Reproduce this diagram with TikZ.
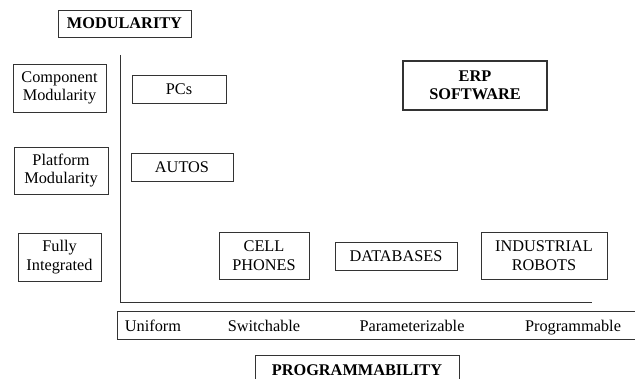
\documentclass[tikz,border=0pt]{standalone}
\usepackage{fontspec}
\setmainfont{Liberation Serif}
\begin{document}
\begin{tikzpicture}[x=1pt,y=-1pt,
  font=\fontsize{16.3}{18.5}\selectfont,
  line/.style={draw=black!80, line width=0.9pt},
  box/.style={line, inner sep=0pt, align=center},
  bold/.style={font=\fontsize{16.3}{18.5}\selectfont\bfseries},
  lbl/.style={inner sep=0pt, anchor=base}]
\useasboundingbox (0,0) rectangle (635,379);
% title
\node[box, bold, minimum width=133, minimum height=27] (mod) at (124.5,23.5) {MODULARITY};
% row labels
\node[box, minimum width=93, minimum height=48] (comp) at (59.5,88) {Component\\Modularity};
\node[box, minimum width=94, minimum height=47] (plat) at (61,170.5) {Platform\\Modularity};
\node[box, minimum width=83, minimum height=48] (full) at (59.5,257) {Fully\\Integrated};
% items
\node[box, minimum width=94, minimum height=28] (pcs) at (179,89) {PCs};
\node[box, minimum width=102, minimum height=28] (autos) at (182,167) {AUTOS};
\node[box, bold, line width=1.7pt, minimum width=144, minimum height=49] (erp) at (475,85.5) {ERP\\SOFTWARE};
\node[box, minimum width=90, minimum height=47] (cell) at (264,255.5) {CELL\\PHONES};
\node[box, minimum width=122, minimum height=28] (db) at (396,256) {DATABASES};
\node[box, minimum width=126, minimum height=47] (rob) at (544,255.5) {INDUSTRIAL\\ROBOTS};
% axes
\coordinate (ytop) at (120,55);
\coordinate (o) at (120,302);
\coordinate (xend) at (592,302);
\draw[line] (ytop) -- (o) -- (xend);
% scale box
\coordinate (s1) at (640,311);
\coordinate (s2) at (117,311);
\coordinate (s3) at (117,339);
\coordinate (s4) at (640,339);
\draw[line] (s1) -- (s2) -- (s3) -- (s4);
\node[lbl] (uni) at (153,331.5) {Uniform};
\node[lbl] (sw) at (264,331.5) {Switchable};
\node[lbl] (par) at (412,331.5) {Parameterizable};
\node[lbl] (prog) at (573,331.5) {Programmable};
% programmability
\coordinate (p1) at (255,395);
\coordinate (p2) at (255,355);
\coordinate (p3) at (459,355);
\coordinate (p4) at (459,395);
\draw[line] (p1) -- (p2) -- (p3) -- (p4);
\node[lbl, bold] (progt) at (357,376) {PROGRAMMABILITY};
\end{tikzpicture}
\end{document}
